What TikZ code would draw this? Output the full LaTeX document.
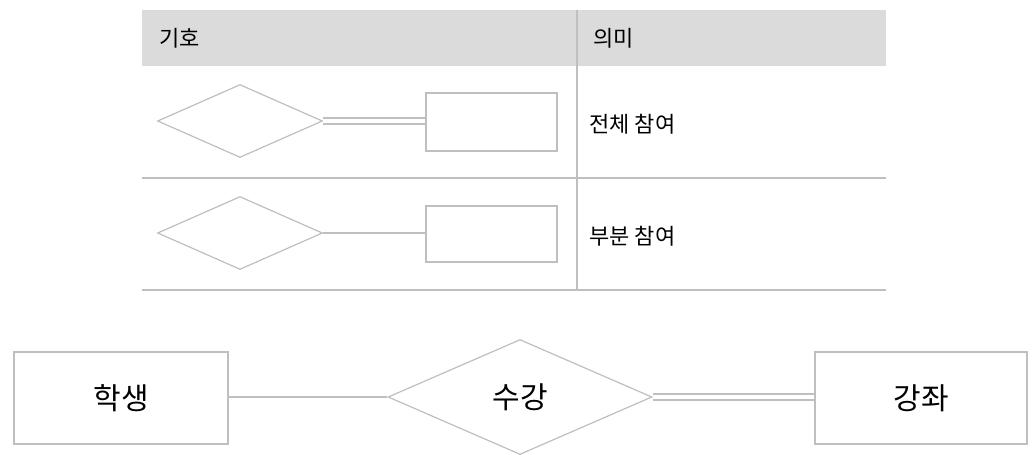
\documentclass[tikz,border=0pt]{standalone}
\usepackage{fontspec}
\setmainfont{Noto Sans CJK KR}
\usetikzlibrary{shapes.geometric}
\begin{document}
\begin{tikzpicture}[x=1pt,y=-1pt,
  ln/.style={draw=black!25,line width=1.2pt},
  box/.style={draw=black!25,line width=1.2pt,fill=white,rectangle,inner sep=0pt},
  dia/.style={draw=black!25,line width=1.2pt,fill=white,diamond,inner sep=0pt},
  tt/.style={font=\fontsize{22}{26}\selectfont,text=black},
  bt/.style={font=\fontsize{30}{34}\selectfont,text=black}]
\useasboundingbox (0,0) rectangle (1035,461);
\fill[black!14] (142,10) rectangle (886,66);
\draw[ln] (577,10) -- (577,290);
\draw[ln] (142,178) -- (886,178);
\draw[ln] (142,290) -- (886,290);
\node[tt,anchor=west] (h1) at (156,38) {기호};
\node[tt,anchor=west] (h2) at (590,38) {의미};
\node[tt,anchor=west] (m1) at (586,124) {전체 참여};
\node[tt,anchor=west] (m2) at (586,236) {부분 참여};
% row 1
\node[dia,minimum width=165pt,minimum height=73pt] (d1) at (240,121) {};
\node[box,minimum width=131pt,minimum height=58pt] (r1) at (491.5,122) {};
\draw[ln] ([yshift=-3pt]d1.east) -- ([yshift=-3pt]r1.west |- d1.east);
\draw[ln] ([yshift=3pt]d1.east) -- ([yshift=3pt]r1.west |- d1.east);
% row 2
\node[dia,minimum width=165pt,minimum height=73pt] (d2) at (240,233) {};
\node[box,minimum width=131pt,minimum height=56pt] (r2) at (491.5,234) {};
\draw[ln] (d2.east) -- (r2.west |- d2.east);
% bottom
\node[box,bt,minimum width=214pt,minimum height=92pt] (s) at (121,398) {학생};
\node[dia,bt,minimum width=264pt,minimum height=115pt] (c) at (520,397) {수강};
\node[box,bt,minimum width=212pt,minimum height=92pt] (k) at (921,398) {강좌};
\draw[ln] (s.east |- c.west) -- (c.west);
\draw[ln] ([yshift=-3pt]c.east) -- ([yshift=-3pt]k.west |- c.east);
\draw[ln] ([yshift=3pt]c.east) -- ([yshift=3pt]k.west |- c.east);
\end{tikzpicture}
\end{document}
